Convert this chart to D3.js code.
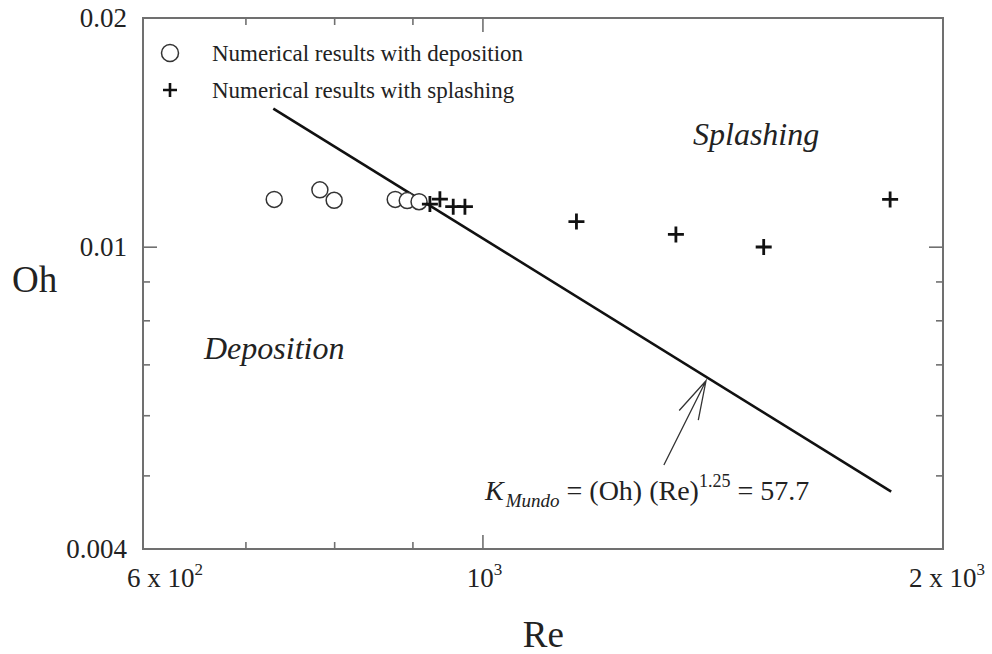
<!DOCTYPE html>
<html lang="en">
<head>
    <meta charset="UTF-8">
    <title>Oh vs Re</title>
    <script src="https://cdnjs.cloudflare.com/ajax/libs/d3/7.8.5/d3.min.js"></script>
    <style>
        body { margin: 0; background: #fff; }
        svg { display: block; font-family: "Liberation Serif", "Times New Roman", serif; }
    </style>
</head>
<body>
    <svg width="992" height="654"></svg>

    <script>
        // data
        const depositionRe = [731, 783, 800, 877, 893, 909];
        const depositionOh = [0.01154, 0.01188, 0.01151, 0.01154, 0.0115, 0.01146];

        const splashingRe = [924, 938, 957, 974, 1152, 1338, 1527, 1847];
        const splashingOh = [0.01138, 0.01155, 0.01129, 0.01129, 0.01079, 0.01038, 0.00999, 0.01154];

        // K_Mundo = 57.7 boundary, two end points
        const mundoRe = [730, 1850];
        const mundoOh = [0.0152, 0.00476];

        // arrow: tail then tip
        const arrowRe = [1314, 1400];
        const arrowOh = [0.00516, 0.00666];

        const xMajorTicks = [1000];
        const xMinorTicks = [700, 800, 900];
        const xTickLabels = [
            { value: 600, base: "6 x 10", exp: "2" },
            { value: 1000, base: "10", exp: "3" },
            { value: 2000, base: "2 x 10", exp: "3" }
        ];
        const yMajorTicks = [0.01];
        const yMinorTicks = [0.005, 0.006, 0.007, 0.008, 0.009];
        const yTickLabels = ["0.004", "0.01", "0.02"];

        const legendLabels = ["Numerical results with deposition", "Numerical results with splashing"];

        const svg = d3.select("svg");
        const margin = { top: 18, right: 49, bottom: 105, left: 143 };
        const width = 992 - margin.left - margin.right;
        const height = 654 - margin.top - margin.bottom;

        const x = d3.scaleLog().domain([600, 2000]).range([0, width]);
        const y = d3.scaleLog().domain([0.004, 0.02]).range([height, 0]);

        const g = svg.append("g").attr("transform", `translate(${margin.left},${margin.top})`);

        const axisColor = "#707070";

        // inward ticks on all four sides
        function ticks(axis, vals, size) {
            return axis.tickValues(vals).tickSize(-size).tickFormat("");
        }
        const axes = [
            [d3.axisBottom(x), `translate(0,${height})`, xMajorTicks, 14],
            [d3.axisBottom(x), `translate(0,${height})`, xMinorTicks, 7],
            [d3.axisTop(x), null, xMajorTicks, 14],
            [d3.axisTop(x), null, xMinorTicks, 7],
            [d3.axisLeft(y), null, yMajorTicks, 14],
            [d3.axisLeft(y), null, yMinorTicks, 7],
            [d3.axisRight(y), `translate(${width},0)`, yMajorTicks, 14],
            [d3.axisRight(y), `translate(${width},0)`, yMinorTicks, 7]
        ];
        axes.forEach(([axis, tr, vals, size]) => {
            const a = g.append("g").call(ticks(axis, vals, size));
            if (tr) a.attr("transform", tr);
            a.select(".domain").remove();
            a.selectAll("line").attr("stroke", axisColor).attr("stroke-width", 1.6);
        });

        // frame
        g.append("rect")
            .attr("width", width)
            .attr("height", height)
            .attr("fill", "none")
            .attr("stroke", axisColor)
            .attr("stroke-width", 2);

        // y tick labels
        g.selectAll(".ylab")
            .data(yTickLabels)
            .enter()
            .append("text")
            .attr("x", -16)
            .attr("y", (d) => y(+d))
            .attr("dy", "0.35em")
            .attr("text-anchor", "end")
            .attr("font-size", 27)
            .attr("fill", "#222")
            .text((d) => d);

        // x tick labels with superscript exponents
        const xl = g.selectAll(".xlab")
            .data(xTickLabels)
            .enter()
            .append("text")
            .attr("x", (d, i) => x(d.value) + (i === 0 ? 22 : (i === 2 ? 4 : 2)))
            .attr("y", height + 38)
            .attr("text-anchor", "middle")
            .attr("font-size", 27)
            .attr("fill", "#222");
        xl.append("tspan").text((d) => d.base);
        xl.append("tspan").attr("font-size", 17).attr("dy", -12).text((d) => d.exp);

        // axis titles
        svg.append("text")
            .attr("x", margin.left + x(1000) + 61)
            .attr("y", 647)
            .attr("text-anchor", "middle")
            .attr("font-size", 37)
            .attr("fill", "#222")
            .text("Re");
        svg.append("text")
            .attr("x", 12)
            .attr("y", 292)
            .attr("font-size", 37)
            .attr("fill", "#222")
            .text("Oh");

        // boundary line
        const line = d3.line().x((d) => x(d[0])).y((d) => y(d[1]));
        g.append("path")
            .datum(d3.zip(mundoRe, mundoOh))
            .attr("d", line)
            .attr("fill", "none")
            .attr("stroke", "#111")
            .attr("stroke-width", 2.6);

        // arrow with open head
        const tail = [x(arrowRe[0]), y(arrowOh[0])];
        const tip = [x(arrowRe[1]), y(arrowOh[1])];
        const ang = Math.atan2(tip[1] - tail[1], tip[0] - tail[0]);
        const headLen = 40, headAng = 0.27;
        const arrowPath = d3.path();
        arrowPath.moveTo(tail[0], tail[1]);
        arrowPath.lineTo(tip[0], tip[1]);
        arrowPath.moveTo(tip[0] - headLen * Math.cos(ang - headAng), tip[1] - headLen * Math.sin(ang - headAng));
        arrowPath.lineTo(tip[0], tip[1]);
        arrowPath.lineTo(tip[0] - headLen * Math.cos(ang + headAng), tip[1] - headLen * Math.sin(ang + headAng));
        g.append("path")
            .attr("d", arrowPath.toString())
            .attr("fill", "none")
            .attr("stroke", "#333")
            .attr("stroke-width", 1.3);

        // markers
        const plus = "M-8,0H8M0,-8V8";
        g.selectAll(".dep")
            .data(d3.zip(depositionRe, depositionOh))
            .enter()
            .append("circle")
            .attr("cx", (d) => x(d[0]))
            .attr("cy", (d) => y(d[1]))
            .attr("r", 8)
            .attr("fill", "#fff")
            .attr("stroke", "#333")
            .attr("stroke-width", 1.5);
        g.selectAll(".spl")
            .data(d3.zip(splashingRe, splashingOh))
            .enter()
            .append("path")
            .attr("transform", (d) => `translate(${x(d[0])},${y(d[1])})`)
            .attr("d", plus)
            .attr("stroke", "#111")
            .attr("stroke-width", 2.8);

        // legend
        const legend = svg.append("g");
        legend.append("circle")
            .attr("cx", 170).attr("cy", 53).attr("r", 8.5)
            .attr("fill", "#fff").attr("stroke", "#333").attr("stroke-width", 1.5);
        legend.append("path")
            .attr("transform", "translate(170,90)")
            .attr("d", "M-7,0H7M0,-7V7")
            .attr("stroke", "#111").attr("stroke-width", 2.6);
        legend.selectAll(".ltext")
            .data(legendLabels)
            .enter()
            .append("text")
            .attr("x", 212)
            .attr("y", (d, i) => 61 + i * 37)
            .attr("font-size", 23)
            .attr("fill", "#222")
            .text((d) => d);

        // region labels
        svg.append("text")
            .attr("x", 693).attr("y", 145)
            .attr("font-size", 32).attr("font-style", "italic").attr("fill", "#222")
            .text("Splashing");
        svg.append("text")
            .attr("x", 204).attr("y", 359)
            .attr("font-size", 32).attr("font-style", "italic").attr("fill", "#222")
            .text("Deposition");

        // K_Mundo annotation
        const k = svg.append("text")
            .attr("x", 485).attr("y", 500)
            .attr("font-size", 28).attr("fill", "#222");
        k.append("tspan").attr("font-style", "italic").text("K");
        k.append("tspan").attr("font-style", "italic").attr("font-size", 19).attr("dy", 7).attr("dx", 2).text("Mundo");
        k.append("tspan").attr("dy", -7).text(" = (Oh) (Re)");
        k.append("tspan").attr("font-size", 18).attr("dy", -13).text("1.25");
        k.append("tspan").attr("dy", 13).text(" = 57.7");
    </script>
</body>
</html>
